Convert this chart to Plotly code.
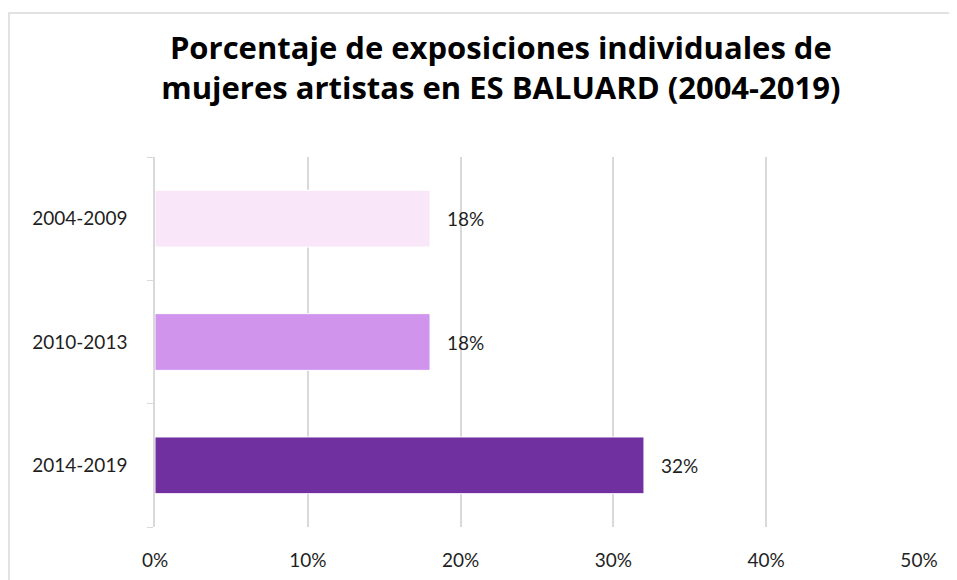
import plotly.graph_objects as go

categories = ["2004-2009", "2010-2013", "2014-2019"]
values = [18, 18, 32]
bar_colors = ["#F9E6F9", "#D194EC", "#7030A0"]
x_ticks = [0, 10, 20, 30, 40, 50]
x_tick_labels = ["0%", "10%", "20%", "30%", "40%", "50%"]
title_text = "Porcentaje de exposiciones individuales de<br>mujeres artistas en ES BALUARD (2004-2019)"

FONT = "Lato"
TXT = "#1f1f1f"

fig = go.Figure()
fig.add_trace(go.Bar(
    y=categories, x=values, orientation="h",
    marker=dict(color=bar_colors, line=dict(color="white", width=1)),
    width=0.46, hoverinfo="skip",
))

for c, v in zip(categories, values):
    fig.add_annotation(x=v, y=c, text=f"{v}%", showarrow=False,
                       xanchor="left", xshift=15,
                       font=dict(family=FONT, size=19, color=TXT))

fig.update_layout(
    width=957, height=580,
    margin=dict(l=147, r=46, t=149, b=61),
    paper_bgcolor="white", plot_bgcolor="white",
    showlegend=False,
    title=dict(text=title_text, x=0.515, xanchor="center", y=0.912, yanchor="top",
               font=dict(family="Open Sans", size=31, color="black", weight="bold")),
    xaxis=dict(range=[0, 50], tickvals=x_ticks, ticktext=x_tick_labels,
               showgrid=True, gridcolor="#D9D9D9", gridwidth=1.5,
               zeroline=False, showline=False, ticks="",
               ticklabelstandoff=20,
               tickfont=dict(family=FONT, size=19, color=TXT)),
    yaxis=dict(categoryorder="array", categoryarray=categories[::-1],
               showline=True, linecolor="#D9D9D9", linewidth=1.5,
               ticks="outside", tickson="boundaries", ticklen=6, tickcolor="#D9D9D9",
               showgrid=False, ticklabelstandoff=22,
               tickfont=dict(family=FONT, size=19, color=TXT)),
    shapes=[dict(type="rect", xref="paper", yref="paper",
                 x0=-146/764, x1=1 + 36/764, y0=-70/370, y1=1 + 144/370,
                 line=dict(color="#D9D9D9", width=1.5), fillcolor="rgba(0,0,0,0)",
                 layer="below")],
)

fig.write_html("out.html")
